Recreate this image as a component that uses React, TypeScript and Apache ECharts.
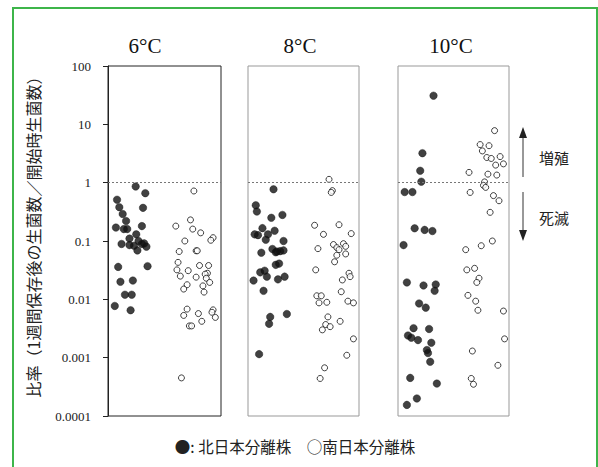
import React, { useEffect, useRef } from "react";
import * as echarts from "echarts";

// [x position within panel (0-100), ratio]
const north6: number[][] = [
  [24.5, 0.86], [33, 0.66], [8, 0.51], [10, 0.38], [31, 0.37], [13, 0.29], [16, 0.22], [7, 0.17],
  [14, 0.16], [17, 0.16], [30, 0.18], [25, 0.13], [19, 0.11], [27, 0.1], [12, 0.089], [19, 0.085],
  [23, 0.083], [30, 0.089], [32, 0.091], [34, 0.08], [26, 0.069], [9, 0.036], [35, 0.037], [11, 0.02],
  [22, 0.021], [15, 0.012], [21, 0.012], [6, 0.0077], [20, 0.0065],
];
const south6: number[][] = [
  [76, 0.72], [73, 0.23], [60, 0.18], [75, 0.16], [82, 0.138], [68, 0.1], [93, 0.114], [91, 0.103],
  [63, 0.066], [78, 0.068], [79, 0.068], [62, 0.043], [61, 0.032], [64, 0.025], [71, 0.031], [81, 0.038],
  [89, 0.038], [88, 0.028], [86, 0.027], [78, 0.024], [87, 0.023], [90, 0.0195], [84, 0.017], [85, 0.0133],
  [70, 0.0178], [67, 0.015], [70, 0.0068], [67, 0.0053], [80, 0.0057], [83, 0.0042], [72, 0.0035], [74, 0.0035],
  [93, 0.0066], [92, 0.006], [95, 0.0049], [65, 0.00045],
];
const north8: number[][] = [
  [23, 0.77], [7, 0.41], [8, 0.32], [21, 0.25], [31, 0.28], [13, 0.166], [24, 0.15], [6, 0.13],
  [9, 0.126], [18, 0.13], [16, 0.105], [32, 0.1], [12, 0.063], [22, 0.073], [26, 0.066], [29, 0.067],
  [32, 0.069], [25, 0.064], [25, 0.039], [28, 0.041], [11, 0.029], [15, 0.031], [17, 0.0245], [5, 0.021],
  [27, 0.022], [33, 0.0245], [14, 0.014], [20, 0.005], [19, 0.0038], [35, 0.0056], [10, 0.00115],
];
const south8: number[][] = [
  [73, 1.14], [76, 0.73], [75, 0.68], [60, 0.186], [82, 0.19], [68, 0.13], [93, 0.134], [63, 0.074],
  [77, 0.087], [80, 0.077], [86, 0.09], [88, 0.081], [82, 0.071], [80, 0.057], [88, 0.06], [78, 0.044],
  [61, 0.032], [91, 0.028], [92, 0.0245], [85, 0.0215], [84, 0.0135], [62, 0.0115], [66, 0.0115], [64, 0.0087],
  [71, 0.0089], [90, 0.0093], [95, 0.0087], [72, 0.005], [70, 0.0037], [74, 0.0034], [67, 0.003], [83, 0.0042],
  [95, 0.0021], [89, 0.0011], [69, 0.00067], [65, 0.00044],
];
const north10: number[][] = [
  [32, 31], [22, 3.2], [20, 1.6], [21, 1.04], [6, 0.69], [13, 0.69], [15, 0.165], [24, 0.155],
  [31, 0.148], [5, 0.085], [8, 0.0195], [23, 0.0173], [34, 0.018], [33, 0.014], [19, 0.0085], [25, 0.0072],
  [14, 0.0032], [28, 0.0031], [9, 0.0024], [12, 0.0022], [18, 0.002], [30, 0.0018], [26, 0.00135], [27, 0.0012],
  [29, 0.00085], [11, 0.00045], [35, 0.00036], [17, 0.0002], [8, 0.000155],
];
const south10: number[][] = [
  [87, 7.8], [74, 4.5], [82, 4.3], [76, 3.5], [80, 2.7], [84, 2.6], [92, 2.8], [88, 2.0],
  [95, 2.1], [64, 1.5], [81, 1.4], [89, 1.35], [78, 1.03], [77, 0.9], [79, 0.83], [65, 0.68],
  [86, 0.6], [91, 0.49], [83, 0.31], [85, 0.1], [75, 0.083], [61, 0.071], [62, 0.032], [69, 0.034],
  [73, 0.023], [71, 0.0195], [63, 0.0117], [70, 0.0093], [72, 0.0065], [95, 0.0063], [96, 0.0021], [67, 0.0013],
  [90, 0.00074], [66, 0.00044], [68, 0.00035],
];

const panelTitles = ["6°C", "8°C", "10°C"];
const yTickLabels = ["0.0001", "0.001", "0.01", "0.1", "1", "10", "100"];
const yAxisTitle = "比率（1週間保存後の生菌数／開始時生菌数）";
const legendText = "●: 北日本分離株　○南日本分離株";
const growLabel = "増殖";
const dieLabel = "死滅";

const SERIF = "'Liberation Serif', 'DejaVu Serif', serif";
const SANS = "'Noto Sans CJK JP', 'Noto Sans', sans-serif";

export default function App() {
  const ref = useRef<HTMLDivElement>(null);
  useEffect(() => {
    document.body.style.margin = "0";
    const chart = echarts.init(ref.current!, null, { renderer: "svg" });
    const gridLefts = [108, 248, 398];
    const gridWidths = [113, 111, 111];
    const titleCenters = [145, 300, 451];
    const panels = [
      [north6, south6],
      [north8, south8],
      [north10, south10],
    ];
    const grids = gridLefts.map((l, i) => ({
      left: l,
      top: 66,
      width: gridWidths[i],
      height: 350,
      show: true,
      borderColor: i === 0 ? "#222" : "#999",
      borderWidth: 1,
      backgroundColor: "transparent",
    }));
    const xAxes = gridLefts.map((_, i) => ({
      type: "value",
      gridIndex: i,
      min: 0,
      max: 100,
      show: false,
    }));
    const yAxes = gridLefts.map((_, i) => ({
      type: "log",
      logBase: 10,
      gridIndex: i,
      min: 0.0001,
      max: 100,
      show: i === 0,
      axisLine: { show: i === 0, lineStyle: { color: "#222", width: 1 } },
      axisTick: { show: i === 0, inside: false, length: 5, lineStyle: { color: "#222" } },
      splitLine: { show: false },
      axisLabel: {
        show: i === 0,
        margin: 17,
        fontFamily: SERIF,
        fontSize: 13,
        color: "#222",
        formatter: (v: number) => yTickLabels[Math.round(Math.log10(v)) + 4] ?? "",
      },
    }));
    const series: any[] = [];
    panels.forEach(([n, s], i) => {
      series.push({
        type: "scatter",
        xAxisIndex: i,
        yAxisIndex: i,
        data: n,
        symbol: "circle",
        symbolSize: 7.5,
        itemStyle: { color: "#111", borderColor: "#111", borderWidth: 0.5 },
        markLine: {
          silent: true,
          symbol: ["none", "none"],
          label: { show: false },
          lineStyle: { type: [2, 2], color: "#777", width: 1 },
          data: [{ yAxis: 1 }],
        },
        z: 3,
      });
      series.push({
        type: "scatter",
        xAxisIndex: i,
        yAxisIndex: i,
        data: s,
        symbol: "circle",
        symbolSize: 6,
        itemStyle: { color: "#fff", borderColor: "#111", borderWidth: 1 },
        z: 3,
      });
    });
    const graphic: any[] = [
      {
        type: "rect",
        shape: { x: 13, y: 8, width: 584, height: 470 },
        style: { fill: "none", stroke: "#3db54a", lineWidth: 2 },
        silent: true,
      },
      ...panelTitles.map((t, i) => ({
        type: "text",
        x: titleCenters[i],
        y: 46,
        style: {
          text: t,
          font: `21px ${SERIF}`,
          fill: "#111",
          textAlign: "center",
          textVerticalAlign: "middle",
        },
      })),
      {
        type: "text",
        x: 33,
        y: 233,
        rotation: Math.PI / 2,
        style: {
          text: yAxisTitle,
          font: `16px ${SANS}`,
          fill: "#222",
          textAlign: "center",
          textVerticalAlign: "middle",
        },
      },
      { type: "line", shape: { x1: 523, y1: 136, x2: 523, y2: 177 }, style: { stroke: "#333", lineWidth: 1 } },
      { type: "polygon", shape: { points: [[523, 127], [519, 138], [527, 138]] }, style: { fill: "#222" } },
      { type: "line", shape: { x1: 523, y1: 192, x2: 523, y2: 232 }, style: { stroke: "#333", lineWidth: 1 } },
      { type: "polygon", shape: { points: [[523, 241], [519, 230], [527, 230]] }, style: { fill: "#222" } },
      {
        type: "text",
        x: 554,
        y: 157,
        style: { text: growLabel, font: `15px ${SANS}`, fill: "#222", textAlign: "center", textVerticalAlign: "middle" },
      },
      {
        type: "text",
        x: 554,
        y: 217,
        style: { text: dieLabel, font: `15px ${SANS}`, fill: "#222", textAlign: "center", textVerticalAlign: "middle" },
      },
      {
        type: "text",
        x: 295,
        y: 446,
        style: { text: legendText, font: `15.5px ${SANS}`, fill: "#222", textAlign: "center", textVerticalAlign: "middle" },
      },
    ];
    chart.setOption({
      animation: false,
      backgroundColor: "#fff",
      grid: grids,
      xAxis: xAxes,
      yAxis: yAxes,
      series,
      graphic,
    });
    return () => chart.dispose();
  }, []);
  return <div ref={ref} style={{ position: "absolute", left: 0, top: 0, width: 598, height: 467 }} />;
}
